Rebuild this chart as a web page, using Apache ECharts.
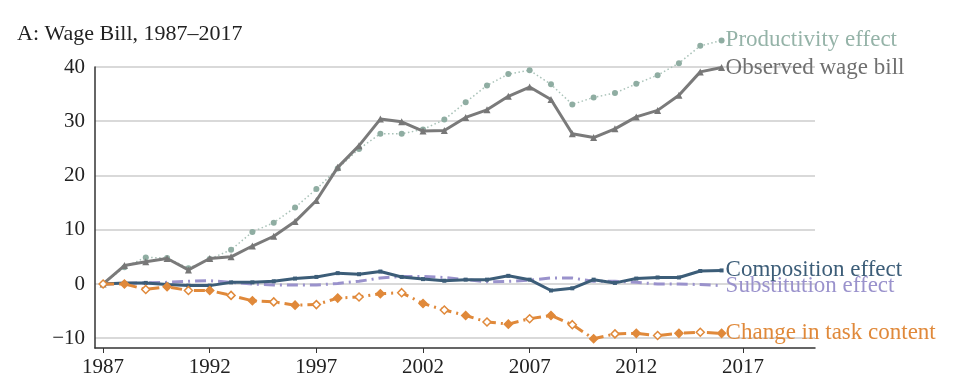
<!DOCTYPE html>
<html>
<head>
<meta charset="utf-8">
<script src="https://cdn.jsdelivr.net/npm/echarts@6/dist/echarts.min.js"></script>
<style>html,body{margin:0;padding:0;background:#fff}#c{width:965px;height:383px}</style>
</head>
<body>
<div id="c"></div>
<script>
const years = [1987,1988,1989,1990,1991,1992,1993,1994,1995,1996,1997,1998,1999,2000,2001,2002,2003,2004,2005,2006,2007,2008,2009,2010,2011,2012,2013,2014,2015,2016];
const productivity = [0,3.1,4.9,4.8,2.9,4.6,6.3,9.6,11.3,14.1,17.5,21.3,24.9,27.7,27.7,28.5,30.3,33.5,36.6,38.7,39.4,36.8,33.1,34.4,35.2,36.9,38.5,40.7,43.9,44.9];
const observed = [0,3.4,4.1,4.7,2.6,4.7,5.0,7.0,8.8,11.5,15.4,21.5,25.5,30.4,29.9,28.2,28.3,30.7,32.1,34.6,36.3,34.0,27.7,27.0,28.6,30.8,32.0,34.8,39.1,39.9];
const composition = [0,0.2,0.2,-0.1,-0.3,-0.3,0.3,0.3,0.5,1.0,1.3,2.0,1.8,2.3,1.3,0.9,0.6,0.8,0.8,1.5,0.8,-1.2,-0.8,0.8,0.2,1.0,1.2,1.2,2.4,2.5];
const substitution = [0,0.1,0.2,0.3,0.5,0.6,0.3,0.0,-0.2,-0.2,-0.2,0.1,0.5,1.1,1.4,1.4,1.2,0.8,0.4,0.5,0.7,1.1,1.1,0.5,0.5,0.3,0.0,0.0,-0.1,-0.3];
const taskContent = [0,0,-1.0,-0.5,-1.2,-1.2,-2.1,-3.1,-3.3,-3.9,-3.8,-2.6,-2.4,-1.8,-1.6,-3.6,-4.8,-5.8,-7.0,-7.4,-6.4,-5.8,-7.5,-10.1,-9.2,-9.1,-9.5,-9.1,-8.9,-9.1];
const xTicks = [1987,1992,1997,2002,2007,2012,2017];
const yTicks = [-10,0,10,20,30,40];
const seriesNames = ['Productivity effect','Observed wage bill','Composition effect','Substitution effect','Change in task content'];

const SERIF = '"Liberation Serif", "DejaVu Serif", serif';
const pair = arr => years.map((y,i)=>[y,arr[i]]);
const endLabel = (color) => ({show:true, formatter:'{a}', color:color, fontFamily:SERIF, fontSize:23, distance:4});

const chart = echarts.init(document.getElementById('c'), null, {renderer:'canvas'});
chart.setOption({
  animation:false,
  backgroundColor:'#fff',
  title:{text:'A: Wage Bill, 1987–2017', left:12, top:18, textStyle:{fontFamily:SERIF, fontSize:22, fontWeight:'normal', color:'#222'}},
  grid:{left:95, right:150, top:67, bottom:35},
  xAxis:{type:'value', min:1986.62, max:2020.38,
    axisLine:{show:true, onZero:false, lineStyle:{color:'#333', width:1.5}},
    axisTick:{show:true, length:5, lineStyle:{color:'#333'}, customValues:xTicks},
    axisLabel:{customValues:xTicks, formatter:v=>String(v), color:'#222', fontFamily:SERIF, fontSize:21, margin:9},
    splitLine:{show:false}},
  yAxis:{type:'value', min:-11.8, max:40,
    axisLine:{show:true, onZero:false, lineStyle:{color:'#333', width:1.5}},
    axisTick:{show:false, customValues:yTicks},
    axisLabel:{customValues:yTicks, formatter:v=>(v<0?'\u2212'+Math.abs(v):String(v)), color:'#222', fontFamily:SERIF, fontSize:21, margin:10},
    splitLine:{show:true, lineStyle:{color:'#cccccc', width:1.5}}},
  series:[
    {name:seriesNames[0], type:'line', data:pair(productivity), clip:false, z:2,
     lineStyle:{color:'#a9c2b8', width:1.5, type:[1.5,2.5]}, symbol:'circle', symbolSize:6,
     itemStyle:{color:'#8fada2', borderWidth:0}, endLabel:endLabel('#95b3a8')},
    {name:seriesNames[1], type:'line', data:pair(observed), clip:false, z:3,
     lineStyle:{color:'#7a7a7a', width:3}, symbol:'triangle', symbolSize:7,
     itemStyle:{color:'#777777', borderWidth:0}, endLabel:endLabel('#707070')},
    {name:seriesNames[2], type:'line', data:pair(composition), clip:false, z:4,
     lineStyle:{color:'#3c5d78', width:3}, symbol:'rect', symbolSize:4,
     itemStyle:{color:'#3c5d78', borderWidth:0}, endLabel:endLabel('#3c5d78')},
    {name:seriesNames[3], type:'line', data:pair(substitution), clip:false, z:3,
     lineStyle:{color:'#9a92cc', width:3, type:[11,5,2,5]}, symbol:'none',
     itemStyle:{color:'#9a92cc'}, endLabel:endLabel('#9a92cc')},
    {name:seriesNames[4], type:'line', clip:false, z:4,
     data:pair(taskContent).map((p,i)=>({value:p, itemStyle:{color: i%2===0 ? '#ffffff' : '#e0893a', borderColor:'#e0893a', borderWidth:1.5}})),
     lineStyle:{color:'#e0893a', width:3, type:[11,5,2,5]}, symbol:'diamond', symbolSize:8,
     itemStyle:{color:'#e0893a'}, endLabel:endLabel('#e0893a')}
  ]
});
</script>
</body>
</html>
